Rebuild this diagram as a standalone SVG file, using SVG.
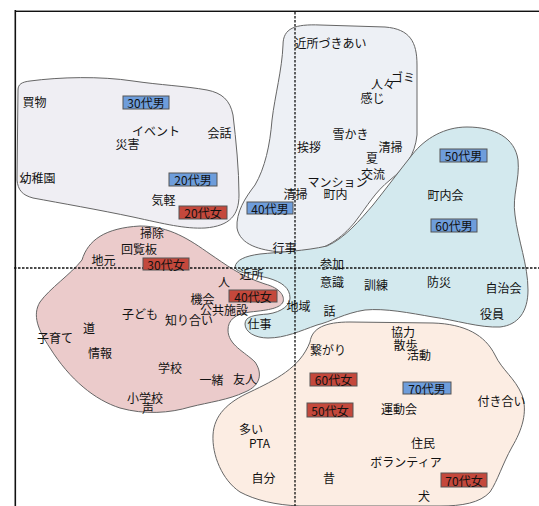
<svg xmlns="http://www.w3.org/2000/svg" width="539" height="506" viewBox="0 0 539 506">
<style>
text{font-family:"Noto Sans CJK JP","Noto Sans",sans-serif;font-size:12px;fill:#111;text-anchor:middle;dominant-baseline:central}
.blob{stroke:#666;stroke-width:1}
.b1{fill:#efeef3}.b2{fill:#edf0f5}.b3{fill:#d3e9ee}.b4{fill:#ebcbcb}.b5{fill:#fcede3}
.m{fill:#6e9ddb;stroke:#555;stroke-width:1}
.f{fill:#c4483c;stroke:#555;stroke-width:1}
.axis{stroke:#111;stroke-width:1.3;stroke-dasharray:2.5,1.5;fill:none}
</style>
<rect x="0" y="0" width="539" height="506" fill="#fff"/>
<g id="frame">
<line x1="14" y1="10.5" x2="539" y2="10.5" stroke="#999" stroke-width="1"/>
<line x1="14" y1="11.5" x2="539" y2="11.5" stroke="#111" stroke-width="1.2"/>
<line x1="14.5" y1="10" x2="14.5" y2="506" stroke="#999" stroke-width="1"/>
<line x1="15.5" y1="10" x2="15.5" y2="506" stroke="#111" stroke-width="1.2"/>
</g>
<g id="clusters">
<path id="c1" class="blob b1" d="M18,90 C18,84 22,82 30,81 C60,77 100,76 133,81 C160,85 185,86 207,90 C222,93 230,100 233,115 C236,140 239,170 239,195 C239,215 230,226 205,228 C185,229 165,224 133,217 C100,210 60,203 33,198 C22,195 18,190 17,180 Z"/>
<path id="c2" class="blob b2" d="M283,45 C283,28 295,24 320,25 L385,27 C410,29 417,42 417,65 L417,135 C415,155 405,168 390,180 C375,192 368,205 355,222 C342,238 325,250 305,252 L280,252 C260,250 240,245 237,228 C236,212 245,198 255,185 C265,168 270,145 272,120 C275,95 282,70 283,45 Z"/>
<path id="c3" class="blob b3" d="M235,267 C236,260 245,256 260,254 C280,252 305,251 327,246 C345,238 360,220 373,205 C385,190 400,170 412,155 C425,138 445,127 467,127 C495,127 515,138 518,160 C520,180 512,195 515,215 C518,240 528,265 528,290 C528,312 518,325 500,327 C480,328 455,320 433,317 C410,313 385,308 365,310 C345,313 330,322 317,325 C300,331 285,338 268,338 C255,338 245,332 245,324 C245,316 255,315 268,314 C282,312 290,305 290,298 C290,288 282,282 268,278 C252,274 236,273 235,267 Z"/>
<path id="c4" class="blob b4" d="M82,260 C88,240 105,228 140,226 C170,226 190,240 210,254 C225,264 240,276 265,284 C280,288 285,296 283,302 C280,308 270,310 250,312 C235,314 228,320 228,330 C228,345 245,352 255,362 C262,372 262,385 245,392 C228,400 210,402 190,407 C170,413 145,415 120,408 C95,400 70,380 50,348 C38,330 32,315 40,302 C50,288 70,275 82,260 Z"/>
<path id="c5" class="blob b5" d="M310,342 C312,328 325,322 350,322 L433,323 C465,324 485,335 495,355 C502,370 515,378 522,395 C528,412 522,430 512,447 C502,465 498,480 490,492 C480,503 462,506 440,506 L300,506 C275,505 255,500 240,492 C222,480 212,455 213,435 C214,415 228,402 250,392 C275,380 300,368 310,342 Z"/>
</g>
<g id="connectors">
<line class="axis" x1="14" y1="268" x2="539" y2="268"/>
<line class="axis" x1="295" y1="12" x2="295" y2="506"/>
</g>
<g id="node-cluster1">
<text x="34.5" y="101">買物</text>
<text x="156" y="130">イベント</text>
<text x="219.5" y="132">会話</text>
<text x="127.5" y="143">災害</text>
<text x="37.5" y="177">幼稚園</text>
<text x="163.5" y="199">気軽</text>
</g>
<g id="node-cluster2">
<text x="330.5" y="42">近所づきあい</text>
<text x="403" y="76">ゴミ</text>
<text x="383" y="83">人々</text>
<text x="372.5" y="97">感じ</text>
<text x="350.5" y="133">雪かき</text>
<text x="309" y="146">挨拶</text>
<text x="390.5" y="146">清掃</text>
<text x="372" y="157">夏</text>
<text x="373" y="173">交流</text>
<text x="337.5" y="181">マンション</text>
<text x="335.5" y="193">町内</text>
<text x="295.5" y="193">清掃</text>
<text x="284.5" y="247">行事</text>
</g>
<g id="node-cluster3">
<text x="445.5" y="194">町内会</text>
<text x="332" y="263">参加</text>
<text x="251.5" y="273">近所</text>
<text x="332" y="281">意識</text>
<text x="376" y="284">訓練</text>
<text x="439" y="281">防災</text>
<text x="503.5" y="287">自治会</text>
<text x="298.5" y="305">地域</text>
<text x="329.5" y="310">話</text>
<text x="492" y="313">役員</text>
<text x="259.5" y="323">仕事</text>
</g>
<g id="node-cluster4">
<text x="152" y="232">掃除</text>
<text x="139" y="248">回覧板</text>
<text x="103.5" y="259">地元</text>
<text x="224" y="281">人</text>
<text x="202.5" y="298">機会</text>
<text x="224" y="309">公共施設</text>
<text x="140" y="313">子ども</text>
<text x="189" y="319">知り合い</text>
<text x="89" y="327">道</text>
<text x="55" y="337">子育て</text>
<text x="100" y="352">情報</text>
<text x="170" y="367">学校</text>
<text x="211.5" y="379">一緒</text>
<text x="245" y="378">友人</text>
<text x="145" y="397">小学校</text>
<text x="148" y="407">声</text>
</g>
<g id="node-cluster5">
<text x="403" y="331">協力</text>
<text x="405.5" y="344">散歩</text>
<text x="328" y="349">繋がり</text>
<text x="419" y="354">活動</text>
<text x="501.5" y="400">付き合い</text>
<text x="399" y="408">運動会</text>
<text x="251" y="428">多い</text>
<text x="259.5" y="442">PTA</text>
<text x="423" y="442">住民</text>
<text x="406" y="461">ボランティア</text>
<text x="263.5" y="477">自分</text>
<text x="329" y="477">昔</text>
<text x="424" y="495">犬</text>
</g>
<g id="node-30m"><rect class="m" x="123" y="96" width="46" height="13"/><text x="146" y="102.5">30代男</text></g>
<g id="node-20m"><rect class="m" x="169" y="173" width="48" height="13"/><text x="193" y="179.5">20代男</text></g>
<g id="node-20f"><rect class="f" x="179" y="206" width="48" height="13"/><text x="203" y="212.5">20代女</text></g>
<g id="node-40m"><rect class="m" x="247" y="202" width="46" height="12"/><text x="270" y="208">40代男</text></g>
<g id="node-50m"><rect class="m" x="440" y="149" width="47" height="13"/><text x="463.5" y="155.5">50代男</text></g>
<g id="node-60m"><rect class="m" x="431" y="219" width="46" height="13"/><text x="454" y="225.5">60代男</text></g>
<g id="node-30f"><rect class="f" x="143" y="258" width="46" height="12"/><text x="166" y="264">30代女</text></g>
<g id="node-40f"><rect class="f" x="229" y="290" width="48" height="12"/><text x="253" y="296">40代女</text></g>
<g id="node-60f"><rect class="f" x="310" y="373" width="47" height="13"/><text x="333.5" y="379.5">60代女</text></g>
<g id="node-70m"><rect class="m" x="403" y="382" width="48" height="12"/><text x="427" y="388">70代男</text></g>
<g id="node-50f"><rect class="f" x="307" y="403" width="46" height="14"/><text x="330" y="410">50代女</text></g>
<g id="node-70f"><rect class="f" x="441" y="473" width="46" height="14"/><text x="464" y="480">70代女</text></g>
</svg>
